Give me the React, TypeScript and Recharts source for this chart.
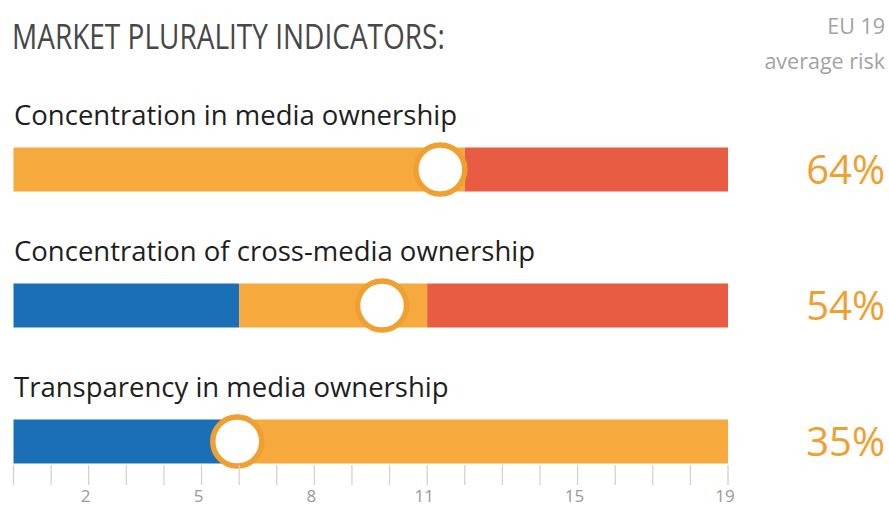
import { Bar, ComposedChart, ReferenceDot, XAxis, YAxis } from 'recharts';

const indicators = [
  'Concentration in media ownership',
  'Concentration of cross-media ownership',
  'Transparency in media ownership',
];
// number of EU countries per risk band
const lowRisk = [0, 6, 6];
const mediumRisk = [12, 5, 13];
const highRisk = [7, 8, 0];
// EU average risk and where its marker sits on the country scale
const averageRisk = ['64%', '54%', '35%'];
const markerPos = [11.35, 9.8, 5.95];
const countTicks = [0, 1, 2, 3, 4, 5, 6, 7, 8, 9, 10, 11, 12, 13, 14, 15, 16, 17, 18, 19];
const labelledTicks = [2, 5, 8, 11, 15, 19];

const BLUE = '#1b6fb6';
const ORANGE = '#f6aa3d';
const RED = '#e95c44';
const MARKER = '#f0a030';
const FONT = '"Open Sans", sans-serif';

const data = indicators.map((name, i) => ({
  name,
  low: lowRisk[i],
  medium: mediumRisk[i],
  high: highRisk[i],
  avg: averageRisk[i],
}));

const CountTick = ({ x, y, payload }: any) => (
  <g>
    <line x1={x} x2={x} y1={y + 1} y2={y + 21} stroke="#cfcfcf" strokeWidth={1.2} />
    {labelledTicks.includes(payload.value) && (
      <text x={x - 3} y={y + 38} textAnchor="middle" fill="#9a9a9a" fontSize={17} fontFamily={FONT}>
        {payload.value}
      </text>
    )}
  </g>
);

const IndicatorTick = ({ x, y, payload }: any) => (
  <text x={x + 0.5} y={y - 45} fill="#1e1e1e" fontSize={27.5} fontFamily={FONT}>
    {payload.value}
  </text>
);

const RiskTick = ({ x, y, index }: any) => (
  <text x={x + 157} y={y + 14} textAnchor="end" fill={MARKER} fontSize={40} fontFamily={FONT}>
    {averageRisk[index]}
  </text>
);

export default function App() {
  return (
    <div style={{ position: 'absolute', left: 0, top: 0, width: 889, height: 508, background: '#fff', fontFamily: FONT }}>
      <div
        style={{
          position: 'absolute',
          left: 12,
          top: 16,
          fontSize: 35,
          color: '#474747',
          whiteSpace: 'nowrap',
          transform: 'scaleX(0.8)',
          transformOrigin: 'left top',
          lineHeight: '40px',
        }}
      >
        MARKET PLURALITY INDICATORS:
      </div>
      <div
        style={{
          position: 'absolute',
          right: 4,
          top: 8,
          fontSize: 21.5,
          color: '#a3a3a3',
          textAlign: 'right',
          lineHeight: '35px',
        }}
      >
        EU 19
        <br />
        average risk
      </div>
      <ComposedChart
        width={889}
        height={508}
        data={data}
        layout="vertical"
        margin={{ top: 101.5, right: 0, bottom: 0, left: 0 }}
        style={{ position: 'absolute', left: 0, top: 0 }}
      >
        <XAxis
          type="number"
          domain={[0, 19]}
          ticks={countTicks}
          interval={0}
          height={44}
          axisLine={false}
          tickLine={false}
          tickSize={0}
          tickMargin={0}
          tick={<CountTick />}
        />
        <YAxis
          yAxisId="left"
          type="category"
          dataKey="name"
          width={13.5}
          padding={{ top: 0, bottom: -45.5 }}
          axisLine={false}
          tickLine={false}
          tickSize={0}
          tickMargin={0}
          tick={<IndicatorTick />}
        />
        <YAxis
          yAxisId="right"
          orientation="right"
          type="category"
          dataKey="name"
          width={161}
          padding={{ top: 0, bottom: -45.5 }}
          axisLine={false}
          tickLine={false}
          tickSize={0}
          tickMargin={0}
          tick={<RiskTick />}
        />
        <Bar yAxisId="left" dataKey="low" stackId="risk" fill={BLUE} barSize={44} isAnimationActive={false} />
        <Bar yAxisId="left" dataKey="medium" stackId="risk" fill={ORANGE} barSize={44} isAnimationActive={false} />
        <Bar yAxisId="left" dataKey="high" stackId="risk" fill={RED} barSize={44} isAnimationActive={false} />
        {indicators.map((name, i) => (
          <ReferenceDot
            key={name}
            yAxisId="left"
            x={markerPos[i]}
            y={name}
            r={24.5}
            fill="#fff"
            stroke={MARKER}
            strokeWidth={5.5}
            ifOverflow="visible"
          />
        ))}
      </ComposedChart>
    </div>
  );
}
